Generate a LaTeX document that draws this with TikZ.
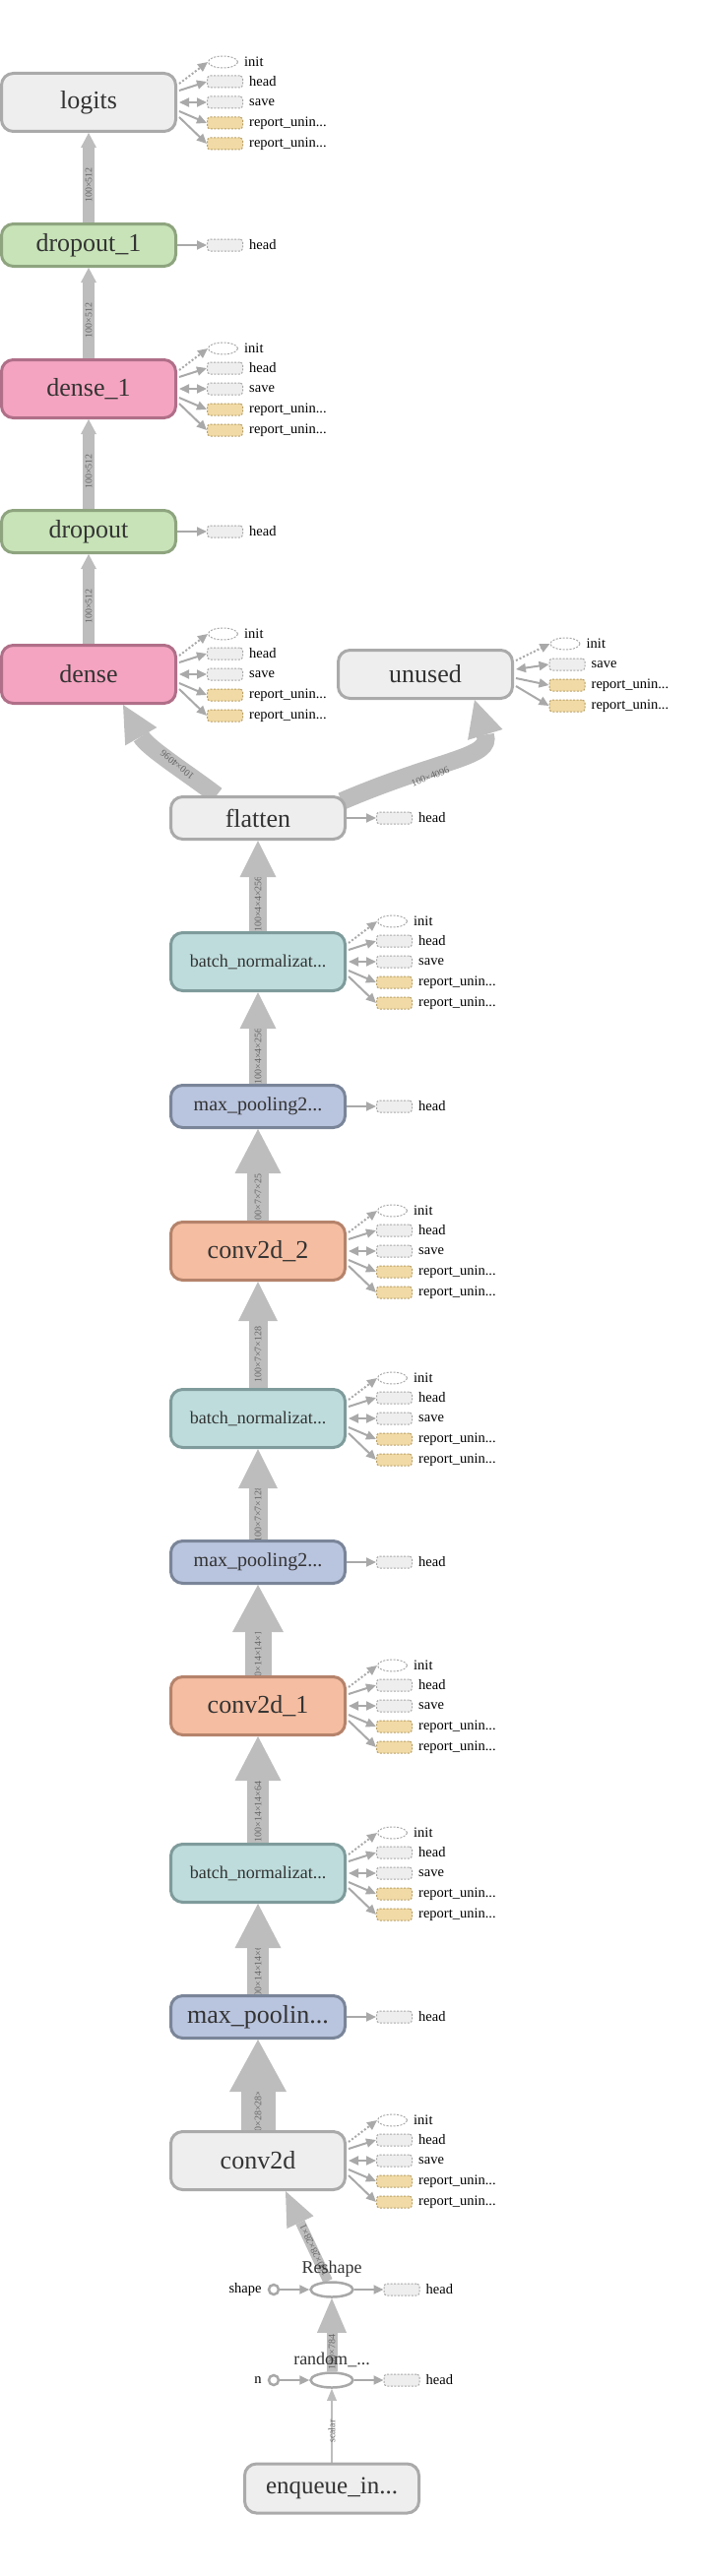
\documentclass[tikz,border=0pt]{standalone}
\usepackage{fontspec}
\setmainfont{Liberation Serif}
\usetikzlibrary{arrows.meta, shapes.geometric, calc}

\definecolor{optext}{HTML}{333333}
\definecolor{opfill}{HTML}{EEEEEE}
\definecolor{opdraw}{HTML}{AAAAAA}
\definecolor{dropfill}{HTML}{C7E3B7}
\definecolor{dropdraw}{HTML}{8EA47F}
\definecolor{densefill}{HTML}{F4A4C0}
\definecolor{densedraw}{HTML}{B06F88}
\definecolor{bnfill}{HTML}{BEDCDC}
\definecolor{bndraw}{HTML}{7F9B9B}
\definecolor{poolfill}{HTML}{B9C4DE}
\definecolor{pooldraw}{HTML}{7A8599}
\definecolor{convfill}{HTML}{F5BDA1}
\definecolor{convdraw}{HTML}{B5836B}
\definecolor{edgegray}{HTML}{BDBDBD}
\definecolor{sidegray}{HTML}{A9A9A9}
\definecolor{satdraw}{HTML}{A8A8A8}
\definecolor{repfill}{HTML}{F1DAA6}
\definecolor{repdraw}{HTML}{B8A067}
\definecolor{elabgray}{HTML}{666666}

\pgfdeclarelayer{edges}
\pgfdeclarelayer{edgelabels}
\pgfsetlayers{edges,edgelabels,main}

\begin{document}
\begin{tikzpicture}[x=1pt, y=-1pt]
    % Styles
    \tikzstyle{op} = [rectangle, rounded corners=12pt, draw=opdraw, fill=opfill, line width=3pt, minimum width=177pt, minimum height=59pt, inner sep=0pt, text=optext, font=\fontsize{26}{26}\selectfont]
    \tikzstyle{slim} = [minimum height=43pt]
    \tikzstyle{dropop} = [op, slim, draw=dropdraw, fill=dropfill]
    \tikzstyle{denseop} = [op, draw=densedraw, fill=densefill]
    \tikzstyle{bnop} = [op, draw=bndraw, fill=bnfill, font=\fontsize{18}{18}\selectfont]
    \tikzstyle{poolop} = [op, slim, draw=pooldraw, fill=poolfill, font=\fontsize{20}{20}\selectfont]
    \tikzstyle{convop} = [op, draw=convdraw, fill=convfill]
    \tikzstyle{tinyop} = [ellipse, draw=satdraw, fill=white, line width=2.5pt, minimum width=43pt, minimum height=15pt, inner sep=0pt]
    \tikzstyle{port} = [circle, draw=satdraw, fill=white, line width=2.5pt, minimum size=10pt, inner sep=0pt]
    \tikzstyle{sathead} = [rectangle, rounded corners=3pt, draw=satdraw, fill=opfill, dash pattern=on 2pt off 1.5pt, line width=1pt, minimum width=36pt, minimum height=12pt, inner sep=0pt]
    \tikzstyle{satrep} = [sathead, draw=repdraw, fill=repfill]
    \tikzstyle{satinit} = [ellipse, draw=satdraw, fill=white, dash pattern=on 2pt off 1.5pt, line width=1pt, minimum width=30pt, minimum height=12pt, inner sep=0pt]
    \tikzstyle{satlabel} = [font=\fontsize{14.5}{14.5}\selectfont, inner sep=0pt, label distance=6pt]
    \tikzstyle{oplabel} = [font=\fontsize{18}{18}\selectfont, text=optext, inner sep=0pt, label distance=4pt]
    \tikzstyle{side} = [draw=sidegray, line width=2pt, -{Triangle[width=9pt, length=10pt]}]
    \tikzstyle{twoway} = [draw=sidegray, line width=2pt, {Triangle[width=9pt, length=10pt]}-{Triangle[width=9pt, length=10pt]}]
    \tikzstyle{dotside} = [side, dash pattern=on 2pt off 2pt]
    \tikzstyle{shaft} = [draw=edgegray]
    \tikzstyle{band} = [draw=edgegray, line width=18pt, -{Triangle[width=37pt, length=37pt, line width=0pt]}]
    \tikzstyle{elabel} = [font=\fontsize{10}{10}\selectfont, text=elabgray, inner sep=0pt]

    \useasboundingbox (0,0) rectangle (712,2617);

    % Nodes - upper column
    \node[op] (logits) at (90,104) {logits};
    \node[dropop] (dropoutb) at (90,249) {dropout\_1};
    \node[denseop] (denseb) at (90,395) {dense\_1};
    \node[dropop] (dropouta) at (90,540) {dropout};
    \node[denseop] (densea) at (90,685) {dense};
    \node[op, minimum height=49pt] (unused) at (432,685) {unused};

    % Nodes - main column
    \node[op, slim] (flatten) at (262,831) {flatten};
    \node[bnop] (bna) at (262,977) {batch\_normalizat...};
    \node[poolop] (mpa) at (262,1124) {max\_pooling2...};
    \node[convop] (convc) at (262,1271) {conv2d\_2};
    \node[bnop] (bnb) at (262,1441) {batch\_normalizat...};
    \node[poolop] (mpb) at (262,1587) {max\_pooling2...};
    \node[convop] (convb) at (262,1733) {conv2d\_1};
    \node[bnop] (bnc) at (262,1903) {batch\_normalizat...};
    \node[poolop, font=\fontsize{26}{26}\selectfont] (mpc) at (262,2049) {max\_poolin...};
    \node[op] (conva) at (262,2195) {conv2d};

    % Nodes - input
    \node[tinyop, label={[oplabel]above:Reshape}] (reshape) at (337,2326) {};
    \node[port, label={[satlabel]left:shape}] (shapein) at (278,2326) {};
    \node[sathead, label={[satlabel]right:head}] (reshape-head) at (408,2326) {};
    \node[tinyop, label={[oplabel]above:random\_...}] (randomu) at (337,2418) {};
    \node[port, label={[satlabel]left:n}] (nin) at (278,2418) {};
    \node[sathead, label={[satlabel]right:head}] (randomu-head) at (408,2418) {};
    \node[op, minimum height=50pt, font=\fontsize{25}{25}\selectfont] (enqueue) at (337,2528) {enqueue\_in...};

    \draw[side] (shapein) -- (reshape);
    \draw[side] (reshape) -- (reshape-head);
    \draw[side] (nin) -- (randomu);
    \draw[side] (randomu) -- (randomu-head);

    % Satellites
    \foreach \n in {logits,denseb,densea,bna,convc,bnb,convb,bnc,conva} {
        \node[satinit, label={[satlabel]right:init}] (\n-init) at ([shift={(46.5,-41)}]\n.east) {};
        \node[sathead, label={[satlabel]right:head}] (\n-head) at ([shift={(48.5,-21)}]\n.east) {};
        \node[sathead, label={[satlabel]right:save}] (\n-save) at ([shift={(48.5,0)}]\n.east) {};
        \node[satrep, label={[satlabel]right:report\_unin...}] (\n-repa) at ([shift={(48.5,21)}]\n.east) {};
        \node[satrep, label={[satlabel]right:report\_unin...}] (\n-repb) at ([shift={(48.5,42)}]\n.east) {};
        \draw[dotside] ([shift={(2,-19)}]\n.east) -- (\n-init.west);
        \draw[side] ([shift={(2,-12)}]\n.east) -- (\n-head.west);
        \draw[twoway] ([shift={(2,0)}]\n.east) -- (\n-save.west);
        \draw[side] ([shift={(2,9)}]\n.east) -- (\n-repa.west);
        \draw[side] ([shift={(2,15)}]\n.east) -- (\n-repb.west);
    }
    \foreach \n in {dropoutb,dropouta,flatten,mpa,mpb,mpc} {
        \node[sathead, label={[satlabel]right:head}] (\n-head) at ([shift={(48.5,0)}]\n.east) {};
        \draw[side] (\n) -- (\n-head);
    }
    \node[satinit, label={[satlabel]right:init}] (unused-init) at ([shift={(52,-31)}]unused.east) {};
    \node[sathead, label={[satlabel]right:save}] (unused-save) at ([shift={(54,-10)}]unused.east) {};
    \node[satrep, label={[satlabel]right:report\_unin...}] (unused-repa) at ([shift={(54,11)}]unused.east) {};
    \node[satrep, label={[satlabel]right:report\_unin...}] (unused-repb) at ([shift={(54,32)}]unused.east) {};
    \draw[dotside] ([shift={(2,-14)}]unused.east) -- (unused-init.west);
    \draw[twoway] ([shift={(2,-5)}]unused.east) -- (unused-save.west);
    \draw[side] ([shift={(2,4)}]unused.east) -- (unused-repa.west);
    \draw[side] ([shift={(2,12)}]unused.east) -- (unused-repb.west);

    % Data flow
    \foreach \lo/\up/\w/\hw/\hl/\lab in {
        densea/dropouta/12/16/15/100×512, dropouta/denseb/12/16/15/100×512,
        denseb/dropoutb/12/16/15/100×512, dropoutb/logits/12/16/15/100×512,
        bna/flatten/18/37/37/100×4×4×256, mpa/bna/18/37/37/100×4×4×256,
        convc/mpa/22/47/45/100×7×7×256, bnb/convc/19/40/40/100×7×7×128,
        mpb/bnb/19/40/40/100×7×7×128, convb/mpb/27/52/48/100×14×14×128,
        bnc/convb/22/47/45/100×14×14×64, mpc/bnc/22/47/45/100×14×14×64,
        conva/mpc/35/58/53/100×28×28×64, randomu/reshape/11/30/35/100×784,
        enqueue/randomu/2.5/10/12/scalar} {
        \begin{pgfonlayer}{edges}
            \draw[shaft, line width=\w*1pt] (\lo.north) -- ([yshift=-\hl*1pt]\up.south);
        \end{pgfonlayer}
        \begin{pgfonlayer}{edgelabels}
            \node[elabel, rotate=90] at ($(\lo.north)!0.5!([yshift=-\hl*1pt]\up.south)$) {\lab};
        \end{pgfonlayer}
        \fill[edgegray] (\up.south) -- ++(0.5*\hw,\hl) -- ++(-\hw,0) -- cycle;
    }
    \begin{pgfonlayer}{edges}
        \draw[band] ([xshift=-42pt]flatten.north) .. controls (190,785) and (150,760) .. ([xshift=35pt]densea.south);
        \draw[band] ([shift={(-5pt,-6pt)}]flatten.north east) .. controls (450,770) and (500,770) .. ([xshift=50pt]unused.south);
        \draw[band, line width=10pt, -{Triangle[width=30pt, length=35pt, line width=0pt]}] ([xshift=-4pt]reshape.north) -- ([xshift=28pt]conva.south);
    \end{pgfonlayer}
    \begin{pgfonlayer}{edgelabels}
        \node[elabel, rotate=141] (lbldense) at (180,777) {100×4096};
        \node[elabel, rotate=22] (lblunused) at (437,789) {100×4096};
        \node[elabel, rotate=115] (lblreshape) at (319,2286) {100×28×28×1};
    \end{pgfonlayer}
\end{tikzpicture}
\end{document}
